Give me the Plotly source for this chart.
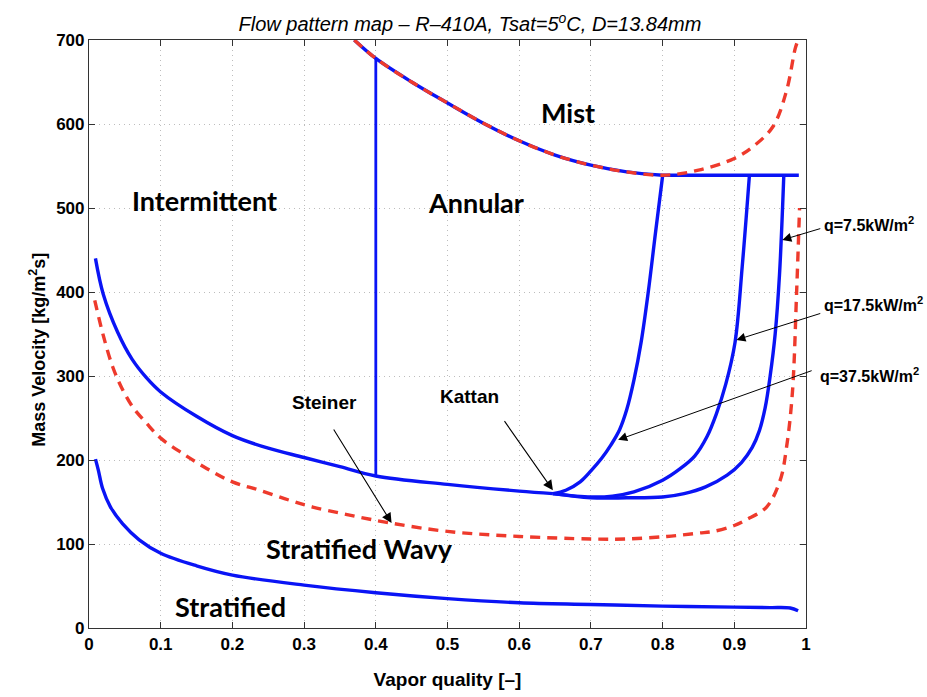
import plotly.graph_objects as go

# ---------------- data ----------------
# Mist / annular boundary (shared by blue solid and red dashed)
mist_x = [0.37, 0.40, 0.45, 0.50, 0.55, 0.60, 0.65, 0.70, 0.75, 0.80]
mist_y = [700, 678, 650, 625, 601, 580, 563, 551, 543, 539]
# red dashed continuation of the mist boundary
mist_red_ext_x = [0.85, 0.90, 0.926, 0.954, 0.973, 0.985, 0.989]
mist_red_ext_y = [545, 559, 573, 597, 640, 690, 700]
# horizontal dryout limit
dry_x = [0.80, 0.99]
dry_y = [539, 539]
# intermittent / annular transition
ia_x = [0.40, 0.40]
ia_y = [180, 679]
# Steiner / Kattan base boundary (intermittent-annular vs stratified wavy)
base_x = [0.009, 0.02, 0.04, 0.06, 0.08, 0.10, 0.15, 0.20, 0.25, 0.30, 0.35, 0.40, 0.50, 0.60, 0.647]
base_y = [440, 397, 352, 320, 298, 281, 252, 229, 214, 203, 192, 181, 171, 163, 160]
# dryout branches
q37_x = [0.647, 0.665, 0.685, 0.70, 0.715, 0.728, 0.740, 0.750, 0.760, 0.770, 0.780, 0.790, 0.80]
q37_y = [160, 164, 174, 187, 202, 218, 236, 260, 295, 340, 400, 470, 538]
q17_x = [0.647, 0.70, 0.73, 0.76, 0.80, 0.825, 0.845, 0.862, 0.875, 0.888, 0.901, 0.911, 0.921]
q17_y = [160, 156, 157, 162, 176, 190, 205, 228, 255, 290, 340, 430, 538]
q7_x = [0.647, 0.70, 0.75, 0.80, 0.83, 0.86, 0.89, 0.91, 0.925, 0.935, 0.943, 0.950, 0.957, 0.963, 0.969]
q7_y = [160, 155, 155, 156, 160, 168, 182, 197, 215, 235, 262, 300, 350, 420, 538]
# red dashed stratified-wavy boundary
sw_x = [0.008, 0.02, 0.033, 0.045, 0.061, 0.08, 0.10, 0.13, 0.164, 0.20, 0.238, 0.28, 0.312, 0.36, 0.42,
        0.50, 0.60, 0.70, 0.75, 0.806, 0.85, 0.871, 0.90, 0.917, 0.945, 0.964, 0.973, 0.981, 0.987, 0.991]
sw_y = [390, 348, 311, 287, 263, 244, 226, 208, 190, 174, 164, 152, 144, 135, 125,
        115, 109, 106, 106, 109, 113, 115, 122, 129, 144, 176, 216, 280, 402, 500]
# stratified / stratified wavy boundary
st_x = [0.009, 0.013, 0.019, 0.03, 0.047, 0.07, 0.10, 0.15, 0.20, 0.30, 0.40, 0.50, 0.60, 0.70, 0.80, 0.90, 0.95, 0.978, 0.989]
st_y = [201, 188, 166, 144, 124, 105, 89, 74, 63, 51, 42, 35, 30, 28, 26, 24.8, 24.3, 23.8, 20.6]

# region labels
region_labels = ["Intermittent", "Annular", "Mist", "Stratified Wavy", "Stratified"]
region_x = [0.161, 0.540, 0.668, 0.377, 0.198]
region_y = [509, 507, 614, 95, 26]

# arrow annotations: text, text position, arrow head
arrow_text = ["Steiner", "Kattan"]
arrow_text_x = [0.329, 0.531]
arrow_text_y = [269, 276]
arrow_tail_x = [0.340, 0.578]
arrow_tail_y = [238, 248]
arrow_head_x = [0.422, 0.647]
arrow_head_y = [125, 164]

q_text = ["q=7.5kW/m<sup>2</sup>", "q=17.5kW/m<sup>2</sup>", "q=37.5kW/m<sup>2</sup>"]
q_text_x = [1.023, 1.023, 1.017]
q_text_y = [481, 386, 301]
q_tail_x = [1.022, 1.022, 1.010]
q_tail_y = [476, 375, 307]
q_head_x = [0.967, 0.903, 0.738]
q_head_y = [462, 343, 224]

BLUE = "#0a14f5"
RED = "#ee3a2c"
LW = 3.4

fig = go.Figure()

def line(x, y, color, dash=None, width=LW, smooth=1.0):
    fig.add_trace(go.Scatter(
        x=x, y=y, mode="lines",
        line=dict(color=color, width=width, dash=dash, shape="spline" if smooth else "linear",
                  smoothing=smooth if smooth else None),
        hoverinfo="skip", showlegend=False, cliponaxis=True))

DASH = "10px,7px"
line(st_x, st_y, BLUE)
line(base_x, base_y, BLUE)
line(q37_x, q37_y, BLUE)
line(q17_x, q17_y, BLUE)
line(q7_x, q7_y, BLUE)
line(ia_x, ia_y, BLUE, width=2.8, smooth=0)
line(dry_x, dry_y, BLUE, smooth=0)
line(mist_x, mist_y, BLUE)
line(sw_x, sw_y, RED, dash=DASH)
line(mist_x + mist_red_ext_x, mist_y + mist_red_ext_y, RED, dash=DASH)

SANS = "Liberation Sans, Arial, sans-serif"
annotations = []
for t, x, y in zip(region_labels, region_x, region_y):
    annotations.append(dict(x=x, y=y, xref="x", yref="y", text=f"<b>{t}</b>", showarrow=False,
                            font=dict(family="Lato, Open Sans, sans-serif", size=27, color="black")))
for t, x, y, tx, ty, hx, hy in zip(arrow_text, arrow_text_x, arrow_text_y, arrow_tail_x, arrow_tail_y,
                                   arrow_head_x, arrow_head_y):
    annotations.append(dict(x=x, y=y, xref="x", yref="y", text=f"<b>{t}</b>", showarrow=False,
                            font=dict(family=SANS, size=19, color="black")))
    annotations.append(dict(x=hx, y=hy, ax=tx, ay=ty, xref="x", yref="y", axref="x", ayref="y",
                            text="", showarrow=True, arrowhead=2, arrowsize=1.8, arrowwidth=1.1,
                            arrowcolor="black"))
for t, x, y, tx, ty, hx, hy in zip(q_text, q_text_x, q_text_y, q_tail_x, q_tail_y, q_head_x, q_head_y):
    # x axis spans [0, 1], so paper x equals data x
    annotations.append(dict(x=x, y=y, xref="paper", yref="y", text=f"<b>{t}</b>", showarrow=False,
                            xanchor="left",
                            font=dict(family=SANS, size=16, color="black")))
    annotations.append(dict(x=hx, y=hy, ax=tx, ay=ty, xref="x", yref="y", axref="x", ayref="y",
                            text="", showarrow=True, arrowhead=2, arrowsize=1.8, arrowwidth=1.0,
                            arrowcolor="black"))

# y axis title, placed as a rotated annotation to match the original's position
annotations.append(dict(x=-0.09, y=0.473, xref="paper", yref="paper", textangle=-90,
                        text="<b>Mass Velocity [kg/m<sup>2</sup>s]</b>", showarrow=False,
                        font=dict(family=SANS, size=18, color="black")))

axis_common = dict(
    showline=True, linecolor="#333", linewidth=1.2, mirror="ticks",
    ticks="inside", ticklen=6, tickcolor="#333", tickwidth=1,
    showgrid=True, gridcolor="#bdbdbd", griddash="1px,4px", gridwidth=1.2,
    zeroline=False, automargin=False,
    tickfont=dict(family=SANS, size=17, color="black", weight="bold"),
)

fig.update_layout(
    width=927, height=697,
    margin=dict(l=89, r=121, t=40, b=69),
    paper_bgcolor="white", plot_bgcolor="white",
    title=dict(text="<i>Flow pattern map – R–410A, Tsat=5<sup>o</sup>C, D=13.84mm</i>",
               x=0.507, xref="container", y=0.975, yref="container", xanchor="center",
               font=dict(family=SANS, size=20, color="black")),
    xaxis=dict(range=[0, 1], dtick=0.1, tick0=0,
               title=dict(text="<b>Vapor quality [–]</b>", standoff=20,
                          font=dict(family=SANS, size=19, color="black")),
               **axis_common),
    yaxis=dict(range=[0, 700], dtick=100, tick0=0, **axis_common),
    annotations=annotations,
)

fig.write_html("out.html")
